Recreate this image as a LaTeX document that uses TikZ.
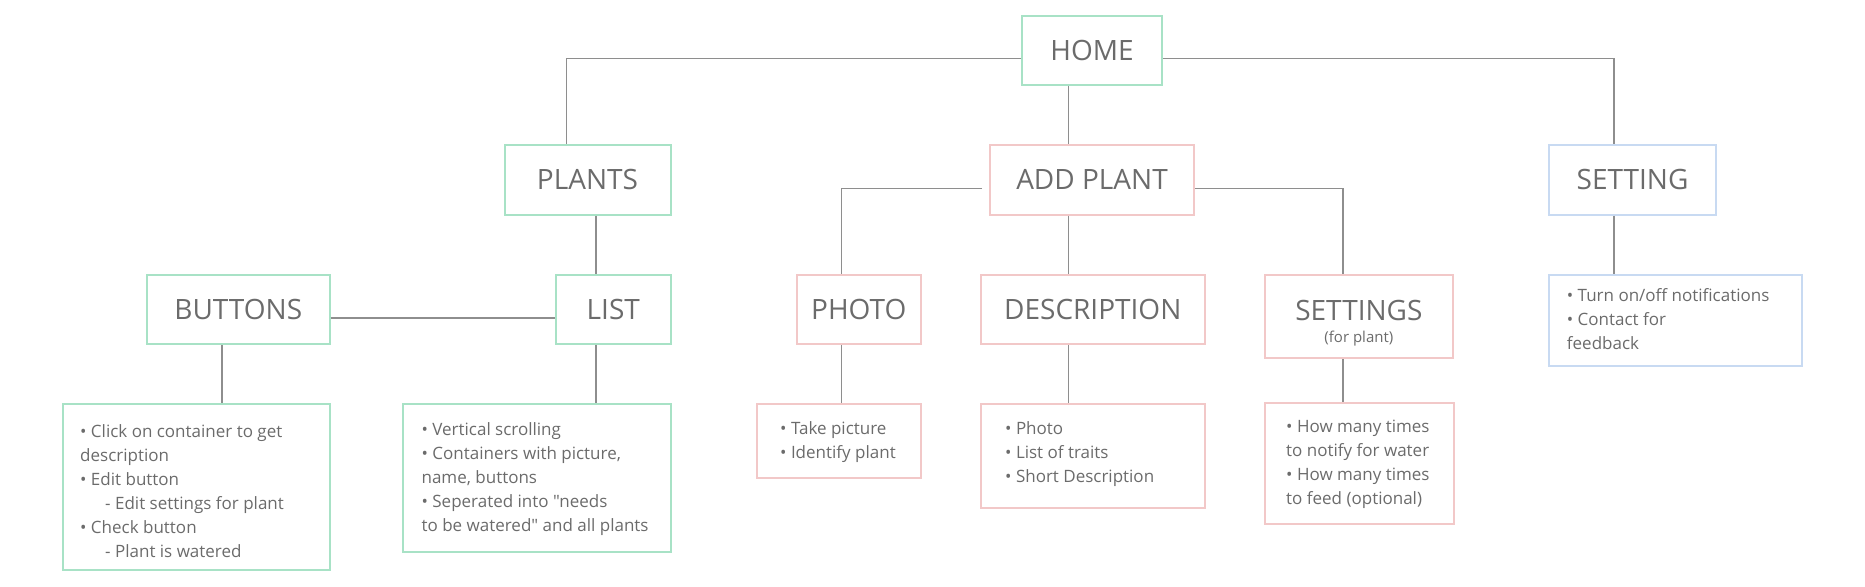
\documentclass[tikz,border=0pt]{standalone}
\usepackage{fontspec}
\setmainfont{Open Sans}[Ligatures=TeXOff]
\definecolor{mint}{HTML}{A8E2C6}
\definecolor{rose}{HTML}{F2C8C8}
\definecolor{sky}{HTML}{C8DAF2}
\definecolor{txt}{HTML}{6B6B6B}
\definecolor{linec}{HTML}{8E8E8E}
\begin{document}
\begin{tikzpicture}[x=1pt,y=-1pt,
  box/.style={draw, line width=2pt, inner sep=0pt, text=txt, font=\fontsize{28}{30}\selectfont},
  gbox/.style={box, draw=mint},
  pbox/.style={box, draw=rose},
  bbox/.style={box, draw=sky},
  desc/.style={font=\fontsize{17}{24}\selectfont, text=txt, align=left, inner sep=0pt, anchor=west},
  conn/.style={draw=linec, line width=1.3pt}]
\useasboundingbox (0,0) rectangle (1865,586);
% boxes
\node[gbox, minimum width=140pt, minimum height=69pt] (home) at (1092,50.25) {HOME};
\node[gbox, minimum width=166pt, minimum height=69.5pt] (plants) at (587.5,179.75) {PLANTS};
\node[pbox, minimum width=204pt, minimum height=69.5pt] (addplant) at (1092,179.75) {ADD PLANT};
\node[bbox, minimum width=167pt, minimum height=69.5pt] (setting) at (1632.5,179.75) {SETTING};
\node[gbox, minimum width=182.5pt, minimum height=69pt] (buttons) at (238.25,309.5) {BUTTONS};
\node[gbox, minimum width=114.5pt, minimum height=69pt] (list) at (613.25,309.5) {LIST};
\node[pbox, minimum width=123.5pt, minimum height=69pt] (photo) at (858.75,309.5) {PHOTO};
\node[pbox, minimum width=223.5pt, minimum height=69pt] (description) at (1092.75,309.5) {DESCRIPTION};
\node[pbox, minimum width=188.3pt, minimum height=83.4pt] (settings) at (1358.85,316.7) {};
\node[text=txt, font=\fontsize{28}{30}\selectfont, inner sep=0pt] (settingst) at (1358.85,310) {SETTINGS};
\node[text=txt, font=\fontsize{15}{17}\selectfont, inner sep=0pt] (settingss) at (1358.85,338.6) {(for plant)};
\node[bbox, minimum width=253pt, minimum height=91pt] (settingd) at (1675.5,320.5) {};
\node[gbox, minimum width=267pt, minimum height=166pt] (buttonsd) at (196,487) {};
\node[gbox, minimum width=267.5pt, minimum height=148pt] (listd) at (536.75,478) {};
\node[pbox, minimum width=163.8pt, minimum height=74.3pt] (photod) at (838.6,441.15) {};
\node[pbox, minimum width=223.5pt, minimum height=104pt] (descd) at (1092.75,456) {};
\node[pbox, minimum width=189.3pt, minimum height=121.5pt] (settingsd) at (1359.35,463.25) {};
% texts
\node[desc] (buttonst) at (80,491) {• Click on container to get\\description\\• Edit button\\\hspace*{25pt}- Edit settings for plant\\• Check button\\\hspace*{25pt}- Plant is watered};
\node[desc] (listt) at (421.4,479) {• Vertical scrolling\\• Containers with picture,\\name, buttons\\• Seperated into "needs\\to be watered" and all plants};
\node[desc] (photot) at (780,442) {• Take picture\\• Identify plant};
\node[desc] (desct) at (1005,454) {• Photo\\• List of traits\\• Short Description};
\node[desc] (settingsdt) at (1286,464) {• How many times\\to notify for water\\• How many times\\to feed (optional)};
\node[desc] (settingdt) at (1566.7,319) {• Turn on/off notifications\\• Contact for\\feedback};
% connector coordinates
\coordinate (ty) at (0,58.7);
\coordinate (apy) at (0,188.3);
\coordinate (bly) at (0,318);
\coordinate (xpl) at (566.5,0);
\coordinate (xset) at (1614,0);
\coordinate (xa) at (1068.75,0);
\coordinate (xph) at (841.5,0);
\coordinate (xss) at (1343,0);
\coordinate (xl) at (596,0);
\coordinate (xb) at (222,0);
% connectors
\draw[conn] (home.west |- ty) -| (plants.north -| xpl);
\draw[conn] (home.east |- ty) -| (setting.north -| xset);
\draw[conn] (home.south -| xa) -- (addplant.north -| xa);
\draw[conn] ([xshift=-7pt]addplant.west |- apy) -| (photo.north -| xph);
\draw[conn] (addplant.east |- apy) -| (settings.north -| xss);
\draw[conn] (addplant.south -| xa) -- (description.north -| xa);
\draw[conn] (plants.south -| xl) -- (list.north -| xl);
\draw[conn] (buttons.east |- bly) -- (list.west |- bly);
\draw[conn] (buttons.south -| xb) -- (buttonsd.north -| xb);
\draw[conn] (list.south -| xl) -- (listd.north -| xl);
\draw[conn] (photo.south -| xph) -- (photod.north -| xph);
\draw[conn] (description.south -| xa) -- (descd.north -| xa);
\draw[conn] (settings.south -| xss) -- (settingsd.north -| xss);
\draw[conn] (setting.south -| xset) -- (settingd.north -| xset);
\end{tikzpicture}
\end{document}
